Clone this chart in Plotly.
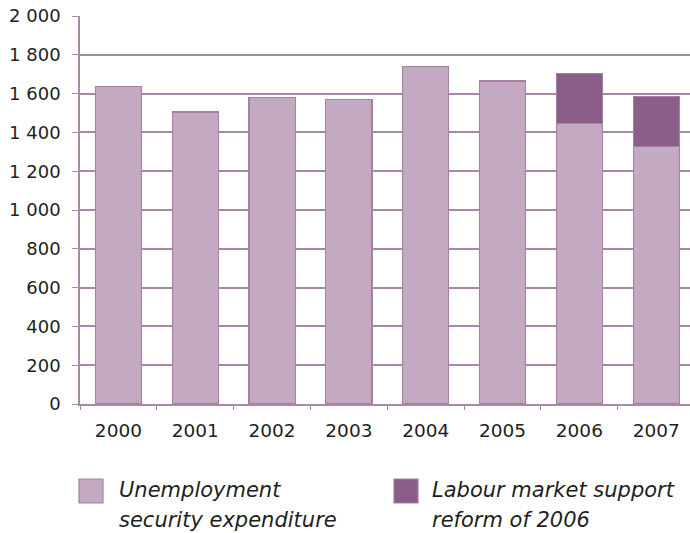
import plotly.graph_objects as go

# Expenditure by year (EUR million)
years = ["2000", "2001", "2002", "2003", "2004", "2005", "2006", "2007"]
unemployment_security = [1635, 1505, 1580, 1570, 1740, 1665, 1445, 1328]
reform_2006 = [None, None, None, None, None, None, 258, 258]

y_ticks = [0, 200, 400, 600, 800, 1000, 1200, 1400, 1600, 1800, 2000]
y_tick_labels = [f"{v:,}".replace(",", " ") for v in y_ticks]

legend_items = [
    ("Unemployment", "security expenditure"),
    ("Labour market support", "reform of 2006"),
]

LIGHT = "#C3A9C2"
DARK = "#8B5D88"
EDGE = "#A680A3"
GRID = "#A987A6"
TEXT = "#231F20"
FONT = "DejaVu Sans"

fig = go.Figure()
fig.add_trace(go.Bar(
    x=years, y=unemployment_security, name=" ".join(legend_items[0]),
    marker=dict(color=LIGHT, line=dict(color=EDGE, width=1.2)),
    width=0.6, showlegend=False,
))
fig.add_trace(go.Bar(
    x=years, y=reform_2006, name=" ".join(legend_items[1]),
    marker=dict(color=DARK, line=dict(color=EDGE, width=1.2)),
    width=0.6, showlegend=False,
))

fig.update_layout(
    barmode="stack",
    width=690, height=533,
    margin=dict(l=80, r=0, t=16, b=129),
    paper_bgcolor="white", plot_bgcolor="white",
    font=dict(family=FONT, size=18, color=TEXT),
    xaxis=dict(
        type="category", range=[-0.5, 7.44],
        showline=True, linecolor=GRID, linewidth=1.5,
        ticks="outside", tickson="boundaries", ticklen=4, tickcolor=GRID, tickwidth=1.2,
        showgrid=False, tickfont=dict(family=FONT, size=18.5, color=TEXT),
        ticklabelstandoff=9,
    ),
    yaxis=dict(
        range=[0, 2000], tickvals=y_ticks, ticktext=y_tick_labels,
        showline=True, linecolor=GRID, linewidth=1.5,
        ticks="outside", ticklen=6, tickcolor=GRID, tickwidth=1.2,
        showgrid=True, gridcolor=GRID, gridwidth=1.5,
        zeroline=False, tickfont=dict(family=FONT, size=18, color=TEXT),
        ticklabelstandoff=8,
    ),
)

# Legend drawn below the plot area
legend_pos = [(79, 117), (394, 430)]
colors = [LIGHT, DARK]
for (sx, tx), color, (line1, line2) in zip(legend_pos, colors, legend_items):
    fig.add_shape(type="rect", xref="paper", yref="paper",
                  x0=(sx - 80) / 610, x1=(sx + 24 - 80) / 610,
                  y0=-(479 + 24 - 404) / 388, y1=-(479 - 404) / 388,
                  fillcolor=color, line=dict(color=EDGE, width=1.2))
    for i, line in enumerate((line1, line2)):
        fig.add_annotation(xref="paper", yref="paper",
                           x=(tx - 80) / 610, y=-(490 + 30 * i - 404) / 388,
                           xanchor="left", yanchor="middle", showarrow=False,
                           text=line, font=dict(family=FONT, size=21, color=TEXT, style="italic"))

fig.write_html("out.html")
